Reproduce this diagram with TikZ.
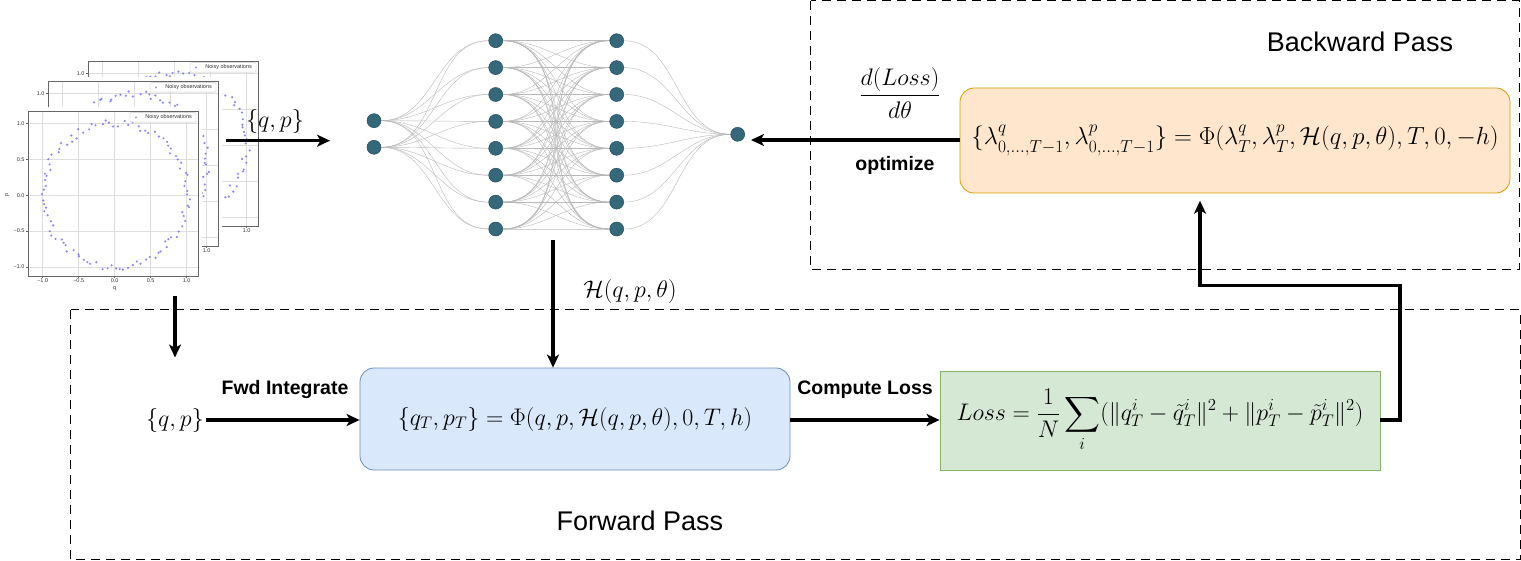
\RequirePackage{fix-cm}
\documentclass[tikz,border=0pt]{standalone}
\usepackage{exscale}
\usepackage[no-math]{fontspec}
\newfontfamily\sansfont{Liberation Sans}
\usetikzlibrary{arrows.meta,backgrounds}

\definecolor{nnfill}{RGB}{52,104,122}
\definecolor{nnedge}{RGB}{36,78,92}
\definecolor{fwdfill}{RGB}{218,232,252}
\definecolor{fwdline}{RGB}{108,142,191}
\definecolor{lossfill}{RGB}{213,232,212}
\definecolor{lossline}{RGB}{130,179,102}
\definecolor{bwdfill}{RGB}{255,230,204}
\definecolor{bwdline}{RGB}{215,155,0}
\definecolor{dotblue}{RGB}{95,95,245}

\tikzset{
  neuron/.style={circle, fill=nnfill, draw=nnedge, line width=0.5pt, minimum size=14pt, inner sep=0pt},
  synapse/.style={draw=black!28, line width=0.4pt},
  arr/.style={line width=3.3pt, -{Stealth[length=13pt,width=12pt,inset=3.5pt]}},
  passbox/.style={draw=black, line width=1pt, dash pattern=on 9pt off 6pt},
  mathlbl/.style={font=\fontsize{24}{28}\selectfont, inner sep=2pt},
  steplbl/.style={font=\sansfont\bfseries\fontsize{19.5}{23}\selectfont, inner sep=1pt},
  passlbl/.style={font=\sansfont\fontsize{27}{32}\selectfont, inner sep=1pt},
  ticklbl/.style={font=\sansfont\fontsize{5.5}{6}\selectfont, inner sep=0pt, text=black!80},
  gridln/.style={draw=black!13, line width=0.6pt},
  sample/.style={fill=dotblue, fill opacity=0.75},
  fwdbox/.style={draw=fwdline, fill=fwdfill, line width=0.8pt, rounded corners=14pt,
    minimum width=430pt, minimum height=102pt, font=\fontsize{24}{28}\selectfont},
  lossbox/.style={draw=lossline, fill=lossfill, line width=0.8pt,
    minimum width=440pt, minimum height=99pt, font=\fontsize{24}{28}\selectfont},
  bwdbox/.style={draw=bwdline, fill=bwdfill, line width=0.8pt, rounded corners=14pt,
    minimum width=550pt, minimum height=105pt, font=\fontsize{24.8}{28}\selectfont},
}

% One matplotlib-style scatter panel of noisy points on the unit circle.
% #1,#2: pixel position of the data origin, #3: seed,
% #4: labelled y ticks (value/text), #5: labelled x ticks (value/text)
\newcommand\noisyplot[5]{%
  \begin{scope}[shift={(#1,#2)}]
    \fill[white] (-112,-88) rectangle (87,98);
    \foreach \g in {-1,-0.5,0,0.5,1} {
      \draw[gridln] ({72*\g},-84.2) -- ({72*\g},80.8);
      \draw[gridln] (-86.7,{-71.8*\g}) -- (83.3,{-71.8*\g});
      \draw[black!60, line width=0.5pt] ({72*\g},80.8) -- ({72*\g},83);
      \draw[black!60, line width=0.5pt] (-86.7,{-71.8*\g}) -- (-88.9,{-71.8*\g});
    }
    \pgfmathsetseed{#3}
    \foreach \k in {1,...,100} {
      \pgfmathsetmacro\ang{\k*3.6+rand*1.8}
      \pgfmathsetmacro\rad{1+0.05*rand}
      \fill[sample] ({72*\rad*cos(\ang)},{-71.8*\rad*sin(\ang)}) circle[radius=1.2pt];
    }
    \draw[black!60, line width=0.6pt] (-86.7,-84.2) rectangle (83.3,80.8);
    \draw[black!22, fill=white, fill opacity=0.9, rounded corners=1pt] (15.3,-82.5) rectangle (81.3,-73);
    \fill[sample] (21.3,-77.7) circle[radius=1pt];
    \node[ticklbl, anchor=west] at (30.5,-77.7) {Noisy observations};
    \foreach \g/\t in {#4} \node[ticklbl, anchor=east] at (-90,{-71.8*\g}) {\t};
    \foreach \g/\t in {#5} \node[ticklbl, anchor=north] at ({72*\g},83.5) {\t};
  \end{scope}}

\begin{document}
\begin{tikzpicture}[x=1pt, y=-1pt]
\useasboundingbox (0,0) rectangle (1521,561);

% dashed frames of the two passes
\draw[passbox] (810.5,0.8) rectangle (1519.5,269.5);
\draw[passbox] (70.5,310) rectangle (1520.2,559.5);
\node[passlbl] (bwdtitle) at (1360,42) {Backward Pass};
\node[passlbl] (fwdtitle) at (640,521) {Forward Pass};

% stack of scatter plots with the observations
\noisyplot{174.7}{145.2}{11}{1/1.0}{1/1.0}
\noisyplot{134.7}{165.2}{23}{1/1.0}{1/1.0}
\noisyplot{114.7}{195.2}{7}{1/1.0,0.5/0.5,0/0.0,-0.5/−0.5,-1/−1.0}{-1/−1.0,-0.5/−0.5,0/0.0,0.5/0.5,1/1.0}
\node[ticklbl] (qaxis) at (114.7,288.5) {q};
\node[ticklbl, rotate=90] (paxis) at (7.3,195.2) {p};

% neural network
\node[neuron] (in1) at (374,120.7) {};
\node[neuron] (in2) at (374,147.3) {};
\foreach \i in {1,...,8} {
  \node[neuron] (ha\i) at (495.7,{40.7+26.9*(\i-1)}) {};
  \node[neuron] (hb\i) at (616.7,{40.7+26.9*(\i-1)}) {};
}
\node[neuron] (out) at (737.7,134.3) {};
\begin{scope}[on background layer]
  \foreach \a in {1,2} \foreach \b in {1,...,8}
    \draw[synapse] (in\a) to[out=0,in=180] (ha\b);
  \foreach \a in {1,...,8} \foreach \b in {1,...,8}
    \draw[synapse] (ha\a) to[out=0,in=180] (hb\b);
  \foreach \a in {1,...,8}
    \draw[synapse] (hb\a) to[out=0,in=180] (out);
\end{scope}

% observations into the network
\node[mathlbl] (qptop) at (275,121.7) {$\{q,p\}$};
\coordinate (plotout) at (226,140.7);
\coordinate (nnin) at (330,140.7);
\draw[arr] (plotout) -- (nnin);

% forward pass
\node[fwdbox] (fwd) at (575,419) {$\{q_T,p_T\}=\Phi(q,p,\mathcal{H}(q,p,\theta),0,T,h)$};
\node[lossbox] (loss) at (1160,420.5) {$\displaystyle Loss=\frac{1}{N}\sum_i(\|q^i_T-\tilde{q}^i_T\|^2+\|p^i_T-\tilde{p}^i_T\|^2)$};
\node[mathlbl] (qp) at (175,420) {$\{q,p\}$};
\coordinate (plotbot) at (175,296);
\coordinate (qpin) at (175,357.5);
\draw[arr] (plotbot) -- (qpin);
\draw[arr] (qp.east |- 0,420) -- (fwd.west |- 0,420);
\node[steplbl] (lblfwd) at (285,390) {Fwd Integrate};
\draw[arr] (fwd.east |- 0,420) -- (loss.west |- 0,420);
\node[steplbl] (lblloss) at (865,390) {Compute Loss};

\coordinate (nnbot) at (553,240);
\draw[arr] (nnbot) -- (nnbot |- fwd.north);
\node[mathlbl] (hlbl) at (630,292) {$\mathcal{H}(q,p,\theta)$};

% backward pass
\node[bwdbox] (bwd) at (1235,140.5) {$\{\lambda^q_{0,\ldots,T-1},\lambda^p_{0,\ldots,T-1}\}=\Phi(\lambda^q_T,\lambda^p_T,\mathcal{H}(q,p,\theta),T,0,-h)$};
\coordinate (turn) at (1400,285.5);
\coordinate (bwin) at (1200,200.7);
\draw[arr] (loss.east |- 0,420) -| (turn) -| (bwin);
\coordinate (nnout) at (751,140);
\draw[arr] (bwd.west |- 0,140) -- (nnout);
\node[mathlbl] (grad) at (900,93) {$\displaystyle\frac{d(Loss)}{d\theta}$};
\node[steplbl] (lblopt) at (895,165) {optimize};
\end{tikzpicture}
\end{document}
